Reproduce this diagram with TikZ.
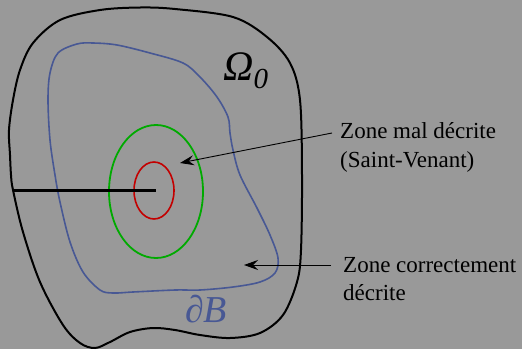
\documentclass[tikz,border=0pt]{standalone}
\usepackage{fontspec}
\setmainfont{Liberation Serif}
\newfontfamily\tnr{Liberation Serif}
\usetikzlibrary{arrows.meta}
\definecolor{bg}{RGB}{153,153,153}
\definecolor{bblue}{RGB}{72,88,148}
\definecolor{ggreen}{RGB}{0,170,0}
\definecolor{rred}{RGB}{195,0,0}
\begin{document}
\begin{tikzpicture}[x=1pt,y=-1pt,
  outline/.style={draw=black,line width=2pt},
  bcurve/.style={draw=bblue,line width=1.6pt},
  ptr/.style={draw=black,line width=0.9pt,-{Stealth[length=14pt,width=10pt,inset=5pt]}},
  lbl/.style={anchor=base west,inner sep=0pt,font=\tnr\fontsize{23}{28}\selectfont}]
\fill[bg] (0,0) rectangle (522,349);
\useasboundingbox (0,0) rectangle (522,349);
% outer domain
\draw[outline] plot[smooth cycle,tension=0.55] coordinates {
 (11,175) (13,190) (23,232) (40,282) (63,325) (80,343) (95,348) (110,342)
 (130,332) (153,328) (175,330) (200,335) (230,338) (260,333) (283,315)
 (297,282) (301,250) (302,175) (300,100) (290,63) (267,37) (233,17)
 (175,9) (140,7.5) (100,10) (60,20) (33,43) (20,70) (13,100) (9,130) (10,155)};
% boundary dB
\draw[bcurve] plot[smooth cycle,tension=0.55] coordinates {
 (55,175) (60,202) (70,242) (83,272) (100,290) (113,293) (133,292) (175,290)
 (200,290) (233,287) (260,282) (275,273) (278,258) (270,235) (257,208)
 (240,175) (233,150) (230,133) (228,117) (217,97) (200,77) (183,63)
 (150,53) (117,45) (93,43) (77,44) (58,53) (50,73) (48,100) (50,140)};
% zones
\draw[ggreen,line width=1.8pt] (156,191.5) ellipse [x radius=47,y radius=66.5];
\draw[rred,line width=1.6pt] (154,190.5) ellipse [x radius=20,y radius=28.5];
% crack
\coordinate (ca) at (13,190.5);
\coordinate (cb) at (156,190.5);
\draw[black,line width=2.7pt] (ca) -- (cb);
% labels
\node[anchor=base west,inner sep=0pt] (om) at (223,80)
  {\tnr\fontsize{42}{42}\selectfont\itshape Ω\raisebox{-8pt}{\fontsize{29}{29}\selectfont 0}};
\node[anchor=base west,inner sep=0pt,text=bblue] (db) at (185,322)
  {\tnr\fontsize{38}{38}\selectfont ∂\itshape B};
\node[lbl] (t1a) at (340,138) {Zone mal décrite};
\node[lbl] (t1b) at (340,167) {(Saint-Venant)};
\node[lbl] (t2a) at (343,272) {Zone correctement};
\node[lbl] (t2b) at (343,300) {décrite};
\coordinate (s1) at (332,133);
\coordinate (e1) at (180,163);
\coordinate (s2) at (331,265);
\coordinate (e2) at (244,265);
\draw[ptr] (s1) -- (e1);
\draw[ptr] (s2) -- (e2);
\end{tikzpicture}
\end{document}
